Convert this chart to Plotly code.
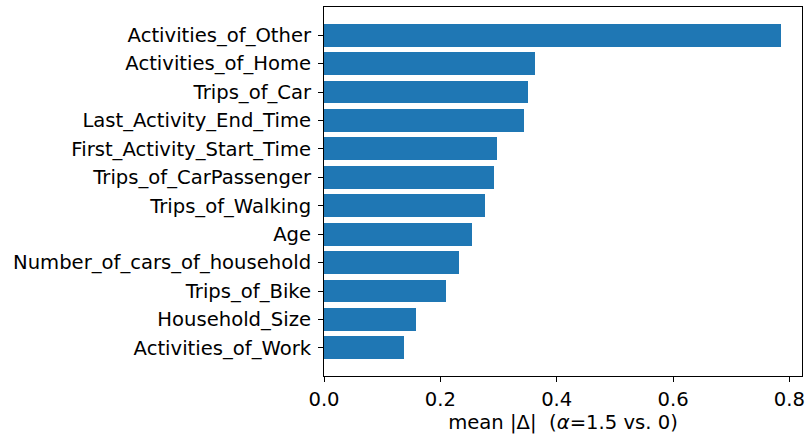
import plotly.graph_objects as go

features = [
    "Activities_of_Other",
    "Activities_of_Home",
    "Trips_of_Car",
    "Last_Activity_End_Time",
    "First_Activity_Start_Time",
    "Trips_of_CarPassenger",
    "Trips_of_Walking",
    "Age",
    "Number_of_cars_of_household",
    "Trips_of_Bike",
    "Household_Size",
    "Activities_of_Work",
]
mean_abs_delta = [0.785, 0.363, 0.351, 0.344, 0.2975, 0.292, 0.277, 0.2545, 0.232, 0.210, 0.1585, 0.138]
x_ticks = [0.0, 0.2, 0.4, 0.6, 0.8]

n = len(features)
ypos = [n - 1 - i for i in range(n)]

fig = go.Figure(go.Bar(
    x=mean_abs_delta,
    y=ypos,
    orientation="h",
    width=0.8,
    marker=dict(color="#1f77b4", line=dict(width=0)),
))

font = dict(family="DejaVu Sans", size=19.6, color="black")
fig.update_layout(
    width=806, height=434,
    margin=dict(l=324, r=4, t=7, b=58, autoexpand=False),
    paper_bgcolor="white", plot_bgcolor="white",
    font=font,
    showlegend=False,
    bargap=0,
)
fig.update_xaxes(
    range=[0, 0.8216],
    tickvals=x_ticks,
    ticktext=[f"{v:.1f}" for v in x_ticks],
    ticks="outside", ticklen=5, tickwidth=1, tickcolor="black",
    showline=True, linecolor="black", linewidth=1, mirror=True,
    showgrid=False, zeroline=False, automargin=False,
    title=dict(text="mean |Δ| &nbsp;(<i>α</i>=1.5 vs. 0)", font=font, standoff=4),
)
fig.update_yaxes(
    range=[-0.99, 11.99],
    tickvals=ypos,
    ticktext=features,
    ticks="outside", ticklen=5, tickwidth=1, tickcolor="black",
    ticklabelstandoff=3,
    showline=True, linecolor="black", linewidth=1, mirror=True,
    showgrid=False, zeroline=False, automargin=False,
)
fig.write_html(
    "out.html",
    config={"displayModeBar": False},
    post_script="document.body.style.margin='0';document.body.style.overflow='hidden';",
)
